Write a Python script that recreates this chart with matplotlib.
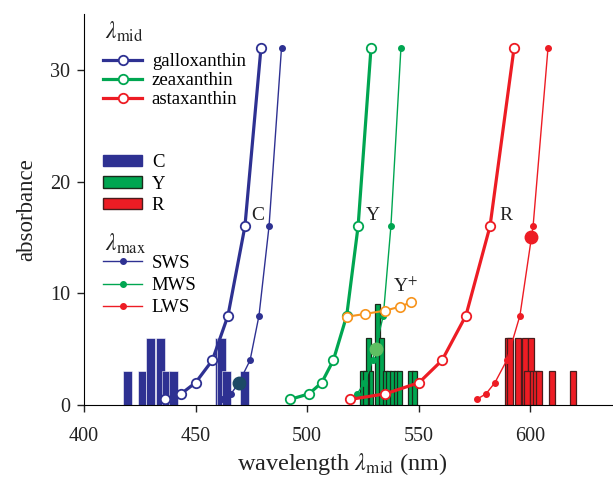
import matplotlib
matplotlib.use('Agg')
import matplotlib.pyplot as plt
from matplotlib.lines import Line2D
from matplotlib.patches import Patch

plt.rcParams['font.family'] = ['Liberation Serif', 'DejaVu Serif']
plt.rcParams['mathtext.fontset'] = 'stix'

# absorbance levels (doubling) shared by the curves
levels = [0.5, 1, 2, 4, 8, 16, 32]

# lambda_mid curves (thick, open circles)
galloxanthin_x = [436.5, 443.5, 450.0, 457.5, 464.5, 472.1, 479.3]
zeaxanthin_x = [492.3, 500.8, 506.5, 511.7, 517.7, 522.8, 528.6]
astaxanthin_x = [519.2, 535.0, 550.1, 560.4, 571.1, 581.9, 592.7]

# lambda_max curves (thin, small dots)
sws_x = [461.8, 465.9, 469.4, 474.4, 478.4, 482.9, 488.5]
mws_x = [519.2, 522.4, 525.6, 529.3, 534.1, 537.5, 542.0]
lws_x = [575.9, 580.1, 584.1, 589.4, 595.3, 601.2, 607.9]

# big dots (lambda_max of each pigment)
peak_x = [469.4, 530.7, 600.3]
peak_y = [2, 5, 15]

# Y+ series
yplus_x = [517.7, 525.9, 534.9, 541.6, 546.5]
yplus_y = [7.9, 8.15, 8.45, 8.8, 9.2]

# oil droplet histograms (wavelength, height)
c_pos = [419.5, 426.0, 429.8, 434.3, 437.0, 440.1, 460.7, 461.6, 463.7, 472.0]
c_h = [3, 3, 6, 6, 3, 3, 6, 6, 3, 3]
y_pos = [531.5, 527.5, 533.3, 524.8, 526.3, 528.6, 535.0, 536.6, 538.2, 539.8, 541.2, 546.2, 548.0]
y_h = [9, 6, 6, 3, 3, 3, 3, 3, 3, 3, 3, 3, 3]
r_pos = [590.0, 591.0, 594.6, 597.4, 600.2, 598.4, 601.0, 602.6, 603.8, 609.6, 619.0]
r_h = [6, 6, 6, 6, 6, 3, 3, 3, 3, 3, 3]

blue = '#2e3192'
green = '#00a651'
red = '#ed1c24'
orange = '#f7941d'
ink = '#222222'

fig = plt.figure(figsize=(6.13, 4.79), dpi=100)
ax = fig.add_axes([84/613, 74/479, 529/613, 391/479])

# histograms
ax.bar(c_pos, c_h, width=4.0, color=blue, edgecolor='white', linewidth=0.4, zorder=1)
ax.bar(y_pos, y_h, width=2.2, color=green, edgecolor='#1b2a1b', linewidth=0.9, zorder=1)
ax.bar(r_pos, r_h, width=2.6, color=red, edgecolor='#4a1c1c', linewidth=0.9, zorder=1)

# thin lambda_max lines
for xs, col in [(sws_x, blue), (mws_x, green), (lws_x, red)]:
    ax.plot(xs, levels, '-o', color=col, lw=1.0, ms=4, zorder=3)

# big dots
ax.plot(peak_x[0], peak_y[0], 'o', color='#1d4a66', ms=9, zorder=4)
ax.plot(peak_x[1], peak_y[1], 'o', color='#5fbf62', ms=9, zorder=4)
ax.plot(peak_x[2], peak_y[2], 'o', color=red, ms=9, zorder=4)

# thick lambda_mid lines
for xs, col in [(galloxanthin_x, blue), (zeaxanthin_x, green), (astaxanthin_x, red)]:
    ax.plot(xs, levels, '-o', color=col, lw=2.3, ms=6.8, mfc='white', mec=col, mew=1.3, zorder=5)

ax.plot(yplus_x, yplus_y, '-o', color=orange, lw=1.5, ms=6.8, mfc='white', mec=orange, mew=1.2, zorder=5)

# curve labels
ax.text(478.0, 17.0, 'C', fontsize=14, ha='center', va='center', color=ink)
ax.text(529.5, 17.0, 'Y', fontsize=14, ha='center', va='center', color=ink)
ax.text(589.0, 17.0, 'R', fontsize=14, ha='center', va='center', color=ink)
ax.text(544.0, 10.6, 'Y$^{+}$', fontsize=14, ha='center', va='center', color=ink)

ax.set_xlim(400, 637)
ax.set_ylim(0, 35)
ax.set_xticks([400, 450, 500, 550, 600])
ax.set_yticks([0, 10, 20, 30])
ax.spines['top'].set_visible(False)
ax.spines['right'].set_visible(False)
ax.tick_params(direction='out', length=5, width=1, labelsize=14.5, colors=ink)
ax.tick_params(axis='x', pad=11)
ax.tick_params(axis='y', pad=5)
ax.set_xlabel('wavelength $\\lambda_{\\rm mid}$ (nm)', fontsize=17.5, color=ink)
ax.xaxis.set_label_coords(0.488, -0.118)
ax.set_ylabel('absorbance', fontsize=16.5, color=ink, labelpad=9)

leg_kw = dict(frameon=False, borderpad=0, borderaxespad=0, handlelength=2.1,
              handletextpad=0.5, fontsize=13.5, alignment='left', loc='upper left')

# legend titles
ax.text(0.040, 0.955, '$\\lambda_{\\rm mid}$', transform=ax.transAxes, fontsize=17,
        ha='left', va='center', color=ink)
ax.text(0.040, 0.413, '$\\lambda_{\\rm max}$', transform=ax.transAxes, fontsize=17,
        ha='left', va='center', color=ink)

h1 = [Line2D([], [], color=c, lw=2.3, marker='o', ms=6.8, mfc='white', mec=c, mew=1.3)
      for c in (blue, green, red)]
leg1 = ax.legend(h1, ['galloxanthin', 'zeaxanthin', 'astaxanthin'],
                 bbox_to_anchor=(0.036, 0.90), labelspacing=0.1, **leg_kw)
ax.add_artist(leg1)

h2 = [Patch(facecolor=blue, edgecolor=blue),
      Patch(facecolor=green, edgecolor='#1b2a1b'),
      Patch(facecolor=red, edgecolor='#4a1c1c')]
leg2 = ax.legend(h2, ['C', 'Y', 'R'], bbox_to_anchor=(0.036, 0.642),
                 handleheight=0.55, labelspacing=0.25, **leg_kw)
ax.add_artist(leg2)

h3 = [Line2D([], [], color=c, lw=1.0, marker='o', ms=4) for c in (blue, green, red)]
ax.legend(h3, ['SWS', 'MWS', 'LWS'], bbox_to_anchor=(0.036, 0.384),
          labelspacing=0.27, **leg_kw)

fig.savefig('out.png', dpi=100)
